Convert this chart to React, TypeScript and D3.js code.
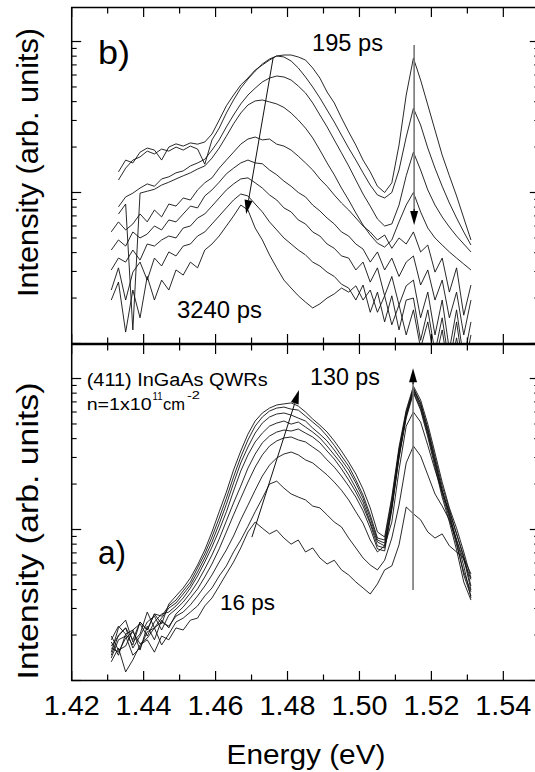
import React from "react";
import * as d3 from "d3";

// Photon energy grid (eV)
const energy = [
  1.431, 1.433, 1.435, 1.437, 1.439, 1.441, 1.443, 1.445, 1.447, 1.449,
  1.451, 1.453, 1.455, 1.457, 1.459, 1.461, 1.463, 1.465, 1.467, 1.469,
  1.471, 1.473, 1.475, 1.477, 1.479, 1.481, 1.483, 1.485, 1.487, 1.489,
  1.491, 1.493, 1.495, 1.497, 1.499, 1.501, 1.503, 1.505, 1.507, 1.509,
  1.511, 1.513, 1.515, 1.517, 1.519, 1.521, 1.523, 1.525, 1.527, 1.529, 1.531,
];

// Panel b) spectra, 195 ps (b1) ... 3240 ps (b9), intensity (arb. units)
const b1 = [null, 13.7, 16.4, 15.7, 18.5, 19.7, 19.1, 16.4, 20.0, 21.0, 20.3, 21.3, 20.9, 21.6, 24.4, 30.2, 37.5, 44.2, 51.5, 57.3, 64.7, 69.9, 75.4, 80.2, 81.4, 81.4, 79.0, 75.4, 66.8, 57.3, 46.3, 39.2, 31.2, 25.2, 20.6, 16.4, 13.7, 11.0, 10.0, 11.6, 20.6, 44.2, 77.7, 55.6, 38.0, 25.9, 17.7, 12.9, 9.49, 6.78, 4.85];
const b2 = [null, 12.1, 14.5, 16.4, 17.2, 18.8, 18.0, 19.4, 18.8, 20.0, 19.1, 20.3, 19.4, 15.4, 22.3, 26.7, 33.6, 41.0, 49.1, 56.4, 63.7, 71.0, 76.6, 80.2, 79.0, 74.3, 66.8, 58.2, 50.0, 42.3, 35.2, 29.3, 24.0, 19.7, 16.4, 13.5, 11.2, 9.63, 9.2, 10.0, 14.1, 23.3, 36.1, 28.0, 19.7, 14.5, 11.0, 8.52, 6.78, 5.48, 4.49];
const b3 = [null, 8.04, 9.35, 9.9, 10.7, 11.4, 11.0, 12.3, 12.7, 13.5, 13.9, 15.0, 15.7, 16.6, 19.1, 22.3, 27.2, 32.6, 38.6, 44.2, 49.1, 54.0, 57.3, 59.1, 58.2, 55.6, 50.7, 45.6, 39.2, 32.6, 27.2, 22.3, 18.3, 15.0, 12.1, 9.77, 8.13, 6.68, 6.0, 6.19, 8.26, 12.9, 18.5, 14.1, 10.4, 8.26, 6.89, 5.91, 5.15, 4.56, 4.04];
const b4 = [null, 7.2, 8.39, 1.23, 9.9, 10.2, 10.5, 11.2, 11.7, 12.3, 12.9, 13.5, 14.3, 15.0, 16.9, 19.7, 23.6, 28.5, 33.6, 38.0, 40.4, 41.0, 39.8, 38.6, 36.6, 33.6, 30.2, 26.7, 23.0, 19.1, 15.7, 13.1, 10.7, 8.92, 7.32, 6.09, 5.23, 4.62, 4.35, 4.85, 6.39, 8.26, 10.0, 7.44, 5.82, 5.0, 4.49, 4.04, 3.68, 3.36, 3.07];
const b5 = [5.49, 6.39, 5.65, 6.19, 7.21, 6.39, 7.66, 6.89, 8.39, 8.13, 9.2, 8.92, 10.4, 11.6, 12.5, 14.5, 16.4, 18.5, 20.9, 22.6, 23.3, 22.3, 22.6, 20.9, 20.3, 19.1, 17.4, 15.7, 14.1, 12.3, 11.0, 9.63, 8.52, 7.66, 6.78, 6.0, 5.48, 4.85, 5.23, 4.27, 5.0, 4.56, 5.48, 4.04, 4.49, 2.97, 3.68, 2.19, 3.17, 1.54, 2.44];
const b6 = [4.16, 4.85, 4.42, 5.48, 5.0, 5.31, 6.0, 5.65, 6.58, 6.39, 7.21, 8.13, 7.91, 9.49, 10.4, 11.7, 13.3, 14.5, 15.7, 16.4, 15.7, 15.5, 14.1, 13.1, 11.9, 11.0, 10.0, 9.35, 8.26, 7.55, 6.78, 6.19, 5.48, 5.15, 4.56, 4.22, 3.46, 4.04, 3.07, 3.68, 2.78, 3.46, 3.8, 2.44, 3.07, 1.94, 2.63, 1.48, 2.19, 1.14, 1.94];
const b7 = [3.07, 3.68, 3.46, 4.16, 3.57, 4.56, 4.42, 4.85, 5.15, 5.0, 5.82, 6.0, 6.78, 7.21, 8.13, 9.2, 10.4, 11.4, 12.3, 12.5, 11.6, 10.7, 9.63, 8.92, 7.91, 7.44, 6.58, 6.19, 5.48, 5.15, 4.56, 4.27, 3.8, 3.68, 3.07, 3.46, 2.55, 3.17, 2.07, 2.78, 1.8, 2.41, 2.63, 1.48, 2.19, 1.14, 1.94, 0.905, 1.67, 0.777, 1.39];
const b8 = [2.26, 3.17, 1.94, 2.97, 3.46, 2.63, 3.68, 3.26, 4.04, 3.8, 4.42, 4.56, 5.15, 5.48, 6.19, 6.99, 7.91, 8.92, 9.77, 9.49, 8.39, 7.44, 6.39, 5.65, 5.0, 4.56, 4.16, 3.86, 3.46, 3.26, 2.97, 2.78, 2.47, 2.33, 1.94, 2.44, 1.61, 2.19, 1.39, 2.07, 1.23, 1.94, 2.0, 1.05, 1.67, 0.878, 1.48, 0.72, 1.39, 0.646, 1.14];
const b9 = [1.94, 2.55, 1.19, 2.26, 1.48, 2.78, 1.94, 2.63, 2.26, 3.07, 2.84, 3.46, 3.17, 4.16, 4.56, 5.15, 6.0, 6.99, 8.26, 7.66, 5.82, 4.85, 3.86, 3.17, 2.63, 2.33, 2.07, 1.88, 1.72, 1.83, 2.0, 2.13, 2.33, 2.19, 2.41, 1.94, 2.26, 1.61, 2.07, 1.33, 1.8, 1.14, 1.67, 0.933, 1.39, 0.755, 1.23, 0.619, 1.09, 0.573, 0.977];

// Panel a) spectra, 130 ps (a1) ... 16 ps (a9)
const a1 = [1.86, 2.29, 2.03, 1.72, 2.44, 2.16, 2.76, 2.37, 3.21, 3.63, 4.1, 4.78, 5.82, 7.32, 9.63, 13.1, 17.7, 24.8, 33.1, 42.8, 52.3, 59.1, 63.7, 66.8, 67.9, 68.9, 65.7, 60.0, 53.9, 49.1, 44.2, 38.6, 33.1, 28.0, 23.3, 18.5, 13.9, 9.63, 8.92, 16.4, 35.2, 61.8, 89.0, 72.1, 49.9, 32.1, 20.6, 13.9, 10.2, 7.1, 4.78];
const a2 = [1.69, 1.97, 2.23, 1.86, 2.44, 2.16, 2.76, 2.67, 3.12, 3.41, 3.92, 4.49, 5.57, 6.89, 8.92, 11.9, 16.1, 22.3, 30.2, 39.2, 48.4, 55.6, 60.9, 63.7, 64.7, 62.7, 61.8, 56.4, 51.5, 47.0, 41.6, 36.1, 30.7, 26.3, 21.3, 16.9, 12.5, 8.78, 8.52, 15.7, 33.6, 60.0, 86.4, 68.9, 47.0, 30.2, 19.4, 13.5, 9.35, 6.48, 3.98];
const a3 = [1.54, 2.23, 2.51, 1.8, 2.03, 2.84, 2.23, 2.59, 3.02, 3.26, 3.74, 4.29, 5.23, 6.48, 8.26, 10.9, 14.7, 20.3, 27.6, 35.2, 43.5, 50.7, 55.6, 58.2, 59.1, 57.3, 54.7, 52.3, 47.0, 42.8, 38.6, 33.6, 28.9, 24.8, 20.3, 16.1, 11.9, 8.52, 8.13, 14.7, 32.6, 58.2, 84.0, 65.7, 44.2, 28.0, 18.2, 12.7, 8.52, 5.74, 3.52];
const a4 = [1.97, 1.59, 1.69, 2.16, 2.37, 1.97, 2.44, 2.76, 2.84, 3.12, 3.52, 4.1, 4.92, 6.09, 7.66, 9.9, 13.1, 18.0, 24.4, 31.2, 38.0, 43.5, 48.4, 50.7, 52.3, 49.9, 51.5, 47.7, 44.2, 40.4, 35.7, 31.2, 27.2, 23.0, 18.8, 15.2, 11.2, 8.26, 7.79, 14.3, 31.2, 56.4, 81.4, 63.7, 42.8, 27.2, 17.2, 11.9, 7.91, 5.23, 3.86];
const a5 = [1.47, 2.0, 2.23, 1.64, 1.97, 2.44, 2.67, 2.16, 2.71, 2.97, 3.31, 3.8, 4.49, 5.48, 6.78, 8.65, 11.4, 15.0, 19.4, 25.5, 31.6, 37.5, 41.6, 44.2, 45.6, 44.9, 46.3, 43.5, 41.0, 37.5, 33.1, 29.3, 25.2, 21.3, 17.7, 14.3, 10.9, 7.79, 7.55, 13.9, 29.8, 54.7, 80.2, 61.8, 41.0, 25.9, 16.4, 11.2, 7.32, 4.49, 3.41];
const a6 = [1.8, 1.47, 2.03, 2.16, 1.59, 2.29, 1.86, 2.51, 2.23, 2.76, 3.07, 3.52, 4.04, 4.85, 5.91, 7.44, 9.63, 12.5, 16.1, 20.6, 25.9, 31.2, 35.7, 38.6, 40.4, 41.0, 39.2, 38.0, 35.2, 32.6, 28.9, 25.9, 22.6, 19.4, 16.4, 13.3, 10.2, 7.44, 7.21, 13.5, 30.2, 57.3, 85.2, 67.9, 45.6, 28.9, 18.2, 12.3, 8.26, 5.0, 3.63];
const a7 = [1.64, 1.54, 1.91, 2.1, 1.75, 1.91, 2.23, 2.44, 2.29, 2.67, 2.84, 3.17, 3.63, 4.22, 5.0, 6.09, 7.32, 9.06, 11.6, 14.5, 18.2, 22.6, 26.7, 29.8, 31.6, 32.6, 31.2, 28.9, 27.6, 25.2, 23.0, 20.6, 18.2, 15.7, 13.1, 11.0, 8.52, 7.1, 7.79, 11.2, 24.8, 48.4, 60.0, 51.5, 36.1, 24.8, 17.7, 13.1, 9.35, 6.68, 4.22];
const a8 = [1.41, 1.86, 1.97, 1.47, 1.64, 2.1, 2.23, 1.72, 2.03, 2.44, 2.59, 2.84, 3.12, 3.63, 4.1, 4.92, 5.74, 7.1, 8.52, 10.5, 13.1, 16.1, 20.0, 20.9, 18.8, 17.2, 16.4, 15.7, 14.3, 13.9, 12.5, 11.2, 10.4, 8.78, 7.55, 6.48, 5.82, 5.4, 6.26, 8.78, 14.5, 27.6, 35.7, 30.7, 23.0, 17.2, 14.3, 11.6, 8.52, 6.26, 4.67];
const a9 = [1.33, 1.64, 1.14, 1.37, 1.72, 1.86, 1.54, 1.97, 1.86, 2.23, 2.16, 2.51, 2.59, 3.12, 3.52, 4.22, 5.08, 6.09, 7.55, 9.63, 11.2, 10.2, 9.35, 9.9, 8.78, 8.0, 8.52, 7.1, 7.55, 6.48, 5.91, 6.26, 5.4, 5.0, 4.49, 4.1, 3.74, 4.36, 5.4, 5.74, 7.91, 14.1, 12.7, 11.6, 9.63, 8.78, 9.35, 7.79, 7.1, 6.48, 5.08];

const topCurves = [b1, b2, b3, b4, b5, b6, b7, b8, b9];
const bottomCurves = [a1, a2, a3, a4, a5, a6, a7, a8, a9];

// Axis ticks
const xMajorTicks = [1.42, 1.44, 1.46, 1.48, 1.5, 1.52, 1.54];
const xTickLabels = ["1.42", "1.44", "1.46", "1.48", "1.50", "1.52", "1.54"];
const xMinorTicks = [1.43, 1.45, 1.47, 1.49, 1.51, 1.53, 1.55];
const yMajorTicks = [1, 10, 100];
const yMinorTicks = [2, 3, 4, 5, 6, 7, 8, 9, 20, 30, 40, 50, 60, 70, 80, 90];

// Annotation arrows (energy eV, intensity)
const topDiagArrow = [[1.476, 78], [1.4685, 7.2]];
const topVertArrow = [[1.5152, 95], [1.5152, 6.1]];
const bottomDiagArrow = [[1.4701, 8.9], [1.4832, 84]];
const bottomVertArrow = [[1.5149, 3.97], [1.5149, 117]];

const FONT = "'Liberation Sans', Arial, Helvetica, sans-serif";

function Arrow({ p0, p1, line, head = "#000", width = 1 }: any) {
  const [x0, y0] = p0;
  const [x1, y1] = p1;
  const dx = x1 - x0, dy = y1 - y0;
  const L = Math.hypot(dx, dy);
  const ux = dx / L, uy = dy / L;
  const len = 14, half = 4;
  const bx = x1 - ux * len, by = y1 - uy * len;
  const pts = [
    [x1, y1],
    [bx - uy * half, by + ux * half],
    [bx + uy * half, by - ux * half],
  ];
  return (
    <g>
      <line x1={x0} y1={y0} x2={bx} y2={by} stroke={line} strokeWidth={width} />
      <polygon points={pts.map((p) => p.join(",")).join(" ")} fill={head} />
    </g>
  );
}

export default function App() {
  const W = 535, H = 772;
  const xL = 71.7, xR = 539.3;
  const x = d3.scaleLinear().domain([1.42, 1.55]).range([xL, xR]);
  const panels = [
    { id: "pb", top: 7.5, bottom: 343.5, curves: topCurves },
    { id: "pa", top: 344.5, bottom: 680.5, curves: bottomCurves },
  ].map((p) => ({ ...p, y: d3.scaleLog().domain([1, 168]).range([p.bottom, p.top]) }));

  const tickColor = "#000";

  return (
    <svg width={W} height={H} style={{ position: "absolute", left: 0, top: 0, background: "#fff" }} fontFamily={FONT}>
      <defs>
        {panels.map((p) => (
          <clipPath id={"clip-" + p.id} key={p.id}>
            <rect x={xL} y={p.top} width={xR - xL} height={p.bottom - p.top} />
          </clipPath>
        ))}
      </defs>
      <rect x={0} y={0} width={W} height={H} fill="#fff" />

      {panels.map((p) => {
        const line = d3
          .line<number | null>()
          .defined((v) => v != null)
          .x((_, i) => x(energy[i]))
          .y((v) => p.y(v as number));
        return (
          <g key={p.id}>
            <g clipPath={`url(#clip-${p.id})`}>
              {p.curves.map((c, k) => (
                <path key={k} d={line(c as any) || ""} fill="none" stroke="#111" strokeWidth={0.9} strokeLinejoin="round" />
              ))}
            </g>
            {xMajorTicks.map((t) => (
              <g key={"M" + t}>
                <line x1={x(t)} x2={x(t)} y1={p.bottom} y2={p.bottom - 9.5} stroke={tickColor} strokeWidth={1.2} />
                <line x1={x(t)} x2={x(t)} y1={p.top} y2={p.top + 9.5} stroke={tickColor} strokeWidth={1.2} />
              </g>
            ))}
            {xMinorTicks.map((t) => (
              <g key={"m" + t}>
                <line x1={x(t)} x2={x(t)} y1={p.bottom} y2={p.bottom - 6} stroke={tickColor} strokeWidth={1.2} />
                <line x1={x(t)} x2={x(t)} y1={p.top} y2={p.top + 6} stroke={tickColor} strokeWidth={1.2} />
              </g>
            ))}
            {yMajorTicks.map((t) => (
              <g key={"YM" + t}>
                <line x1={xL} x2={xL + 9.5} y1={p.y(t)} y2={p.y(t)} stroke={tickColor} strokeWidth={1.2} />
                <line x1={xR} x2={xR - 9.5} y1={p.y(t)} y2={p.y(t)} stroke={tickColor} strokeWidth={1.2} />
              </g>
            ))}
            {yMinorTicks.map((t) => (
              <g key={"Ym" + t}>
                <line x1={xL} x2={xL + 5} y1={p.y(t)} y2={p.y(t)} stroke={tickColor} strokeWidth={1.1} />
                <line x1={xR} x2={xR - 5} y1={p.y(t)} y2={p.y(t)} stroke={tickColor} strokeWidth={1.1} />
              </g>
            ))}
            <rect x={xL} y={p.top} width={xR - xL} height={p.bottom - p.top} fill="none" stroke="#000" strokeWidth={1.5} />
          </g>
        );
      })}

      {/* Panel b annotations */}
      <line
        x1={x(topVertArrow[0][0])}
        x2={x(topVertArrow[1][0])}
        y1={panels[0].y(topVertArrow[0][1])}
        y2={panels[0].y(topVertArrow[1][1]) - 12}
        stroke="#777"
        strokeWidth={1.6}
      />
      <Arrow
        p0={[x(topVertArrow[0][0]), panels[0].y(topVertArrow[1][1]) - 16]}
        p1={[x(topVertArrow[1][0]), panels[0].y(topVertArrow[1][1])]}
        line="#000"
      />
      <Arrow
        p0={[x(topDiagArrow[0][0]), panels[0].y(topDiagArrow[0][1])]}
        p1={[x(topDiagArrow[1][0]), panels[0].y(topDiagArrow[1][1])]}
        line="#111"
        width={1}
      />
      <text x={98} y={63.5} fontSize={33} textLength={32} lengthAdjust="spacingAndGlyphs">b)</text>
      <text x={312} y={51} fontSize={24} textLength={71} lengthAdjust="spacingAndGlyphs">195 ps</text>
      <text x={177} y={318} fontSize={24} textLength={85} lengthAdjust="spacingAndGlyphs">3240 ps</text>

      {/* Panel a annotations */}
      <line
        x1={x(bottomVertArrow[0][0])}
        x2={x(bottomVertArrow[1][0])}
        y1={panels[1].y(bottomVertArrow[0][1])}
        y2={panels[1].y(bottomVertArrow[1][1]) + 12}
        stroke="#777"
        strokeWidth={1.6}
      />
      <Arrow
        p0={[x(bottomVertArrow[0][0]), panels[1].y(bottomVertArrow[1][1]) + 16]}
        p1={[x(bottomVertArrow[1][0]), panels[1].y(bottomVertArrow[1][1])]}
        line="#000"
      />
      <Arrow
        p0={[x(bottomDiagArrow[0][0]), panels[1].y(bottomDiagArrow[0][1])]}
        p1={[x(bottomDiagArrow[1][0]), panels[1].y(bottomDiagArrow[1][1])]}
        line="#111"
        width={1}
      />
      <text x={98} y={564} fontSize={33} textLength={28} lengthAdjust="spacingAndGlyphs">a)</text>
      <text x={310} y={385} fontSize={24} textLength={70} lengthAdjust="spacingAndGlyphs">130 ps</text>
      <text x={220} y={610} fontSize={22.5} textLength={55} lengthAdjust="spacingAndGlyphs">16 ps</text>
      <text x={86.7} y={386} fontSize={18} textLength={181} lengthAdjust="spacingAndGlyphs">(411) InGaAs QWRs</text>
      <text x={86.7} y={410} fontSize={17} textLength={65} lengthAdjust="spacingAndGlyphs">n=1x10</text>
      <text x={152.5} y={400} fontSize={10.5} textLength={10} lengthAdjust="spacingAndGlyphs">11</text>
      <text x={163} y={410} fontSize={17} textLength={22} lengthAdjust="spacingAndGlyphs">cm</text>
      <text x={187} y={399} fontSize={10.5} textLength={13} lengthAdjust="spacingAndGlyphs">-2</text>

      {xMajorTicks.map((t, i) => (
        <text key={"xl" + t} x={x(t)} y={715} fontSize={27} textAnchor="middle" textLength={56} lengthAdjust="spacingAndGlyphs">
          {xTickLabels[i]}
        </text>
      ))}
      <text x={306} y={763.5} fontSize={27} textAnchor="middle" textLength={159} lengthAdjust="spacingAndGlyphs">Energy (eV)</text>

      <text transform="translate(38,162.5) rotate(-90)" fontSize={30} textAnchor="middle" textLength={269} lengthAdjust="spacingAndGlyphs">
        Intensity (arb. units)
      </text>
      <text transform="translate(38,531) rotate(-90)" fontSize={30} textAnchor="middle" textLength={297} lengthAdjust="spacingAndGlyphs">
        Intensity (arb. units)
      </text>
    </svg>
  );
}
